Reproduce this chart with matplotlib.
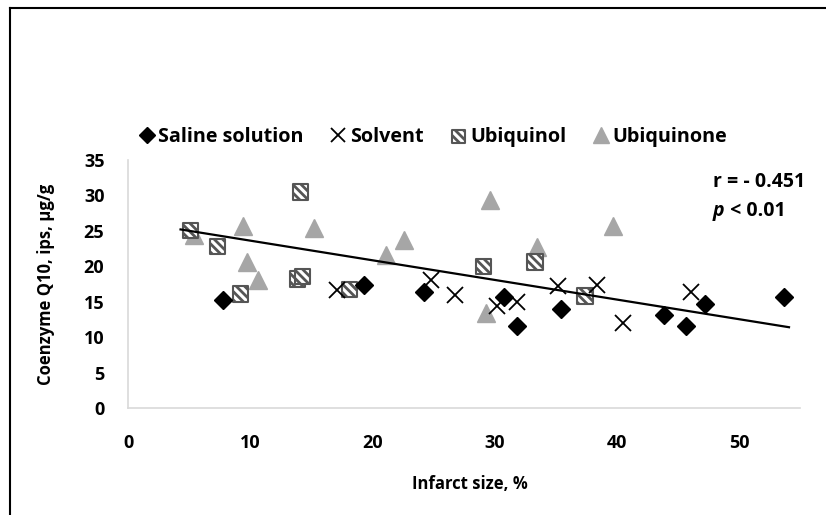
import numpy as np
import matplotlib
matplotlib.use("Agg")
import matplotlib.pyplot as plt
from matplotlib.lines import Line2D

plt.rcParams['font.family'] = ['Open Sans', 'DejaVu Sans']
plt.rcParams['font.weight'] = 'bold'
plt.rcParams['hatch.linewidth'] = 2.0

# data
saline_x = [7.8, 19.3, 24.2, 30.8, 31.8, 35.4, 43.9, 45.7, 47.2, 53.7]
saline_y = [15.2, 17.3, 16.4, 15.7, 11.6, 14.0, 13.1, 11.6, 14.7, 15.7]

solvent_x = [17.1, 24.8, 26.8, 30.2, 31.8, 35.2, 38.4, 40.5, 46.1]
solvent_y = [16.7, 18.0, 15.9, 14.4, 15.0, 17.2, 17.3, 12.0, 16.4]

ubiquinol_x = [5.1, 7.3, 9.2, 13.9, 14.3, 14.1, 18.1, 29.1, 33.3, 37.4]
ubiquinol_y = [25.0, 22.8, 16.1, 18.2, 18.6, 30.5, 16.7, 20.0, 20.6, 15.8]

ubiquinone_x = [5.4, 9.4, 15.2, 9.7, 10.6, 22.6, 21.1, 29.6, 39.7, 33.5, 29.3]
ubiquinone_y = [24.4, 25.7, 25.4, 20.6, 18.1, 23.7, 21.6, 29.4, 25.7, 22.7, 13.4]

# trend line end points as drawn in the original chart
trend_x = [4.3, 54.1]
trend_y = [25.2, 11.4]

x_ticks = [0, 10, 20, 30, 40, 50]
y_ticks = [0, 5, 10, 15, 20, 25, 30, 35]

W, H = 826, 515
fig = plt.figure(figsize=(W / 100, H / 100), dpi=100)
ax = fig.add_axes([128 / W, 1 - 408 / H, 672 / W, 248 / H])

# outer chart frame (left and top edges visible)
fig.add_artist(Line2D([10 / W, 10 / W], [0, 1 - 8 / H], color='black', lw=1.5, transform=fig.transFigure))
fig.add_artist(Line2D([10 / W, 1], [1 - 8 / H, 1 - 8 / H], color='black', lw=1.5, transform=fig.transFigure))

ax.plot(ubiquinone_x, ubiquinone_y, linestyle='none', marker='^', ms=13,
        color='#a6a6a6', mec='#a6a6a6', label='Ubiquinone', zorder=3)
ax.scatter(ubiquinol_x, ubiquinol_y, marker='s', s=11 ** 2, facecolor='white',
           edgecolor='#555555', hatch='\\\\\\\\', linewidth=1.5, label='Ubiquinol', zorder=4)
ax.plot(saline_x, saline_y, linestyle='none', marker='D', ms=9,
        color='black', label='Saline solution', zorder=5)
ax.plot(solvent_x, solvent_y, linestyle='none', marker='x', ms=11.5, mew=1.3,
        color='black', label='Solvent', zorder=5)

ax.plot(trend_x, trend_y, color='black', lw=1.6, zorder=6)

ax.set_xlim(0, 55)
ax.set_ylim(0, 35)
ax.set_xticks(x_ticks)
ax.set_yticks(y_ticks)
ax.tick_params(length=0, labelsize=13)
ax.tick_params(axis='y', pad=17)
ax.tick_params(axis='x', pad=19)
for lab in ax.get_xticklabels() + ax.get_yticklabels():
    lab.set_fontweight('bold')
for s in ['top', 'right']:
    ax.spines[s].set_visible(False)
for s in ['left', 'bottom']:
    ax.spines[s].set_color('#d9d9d9')
    ax.spines[s].set_linewidth(1.2)

ax.set_ylabel('Coenzyme Q10, ips, µg/g', fontsize=12, fontweight='bold')
ax.yaxis.set_label_coords(-0.109, 0.5)
ax.set_xlabel('Infarct size, %', fontsize=12, fontweight='bold')
ax.xaxis.set_label_coords(0.509, -0.27)

handles, labels = ax.get_legend_handles_labels()
order = [labels.index(n) for n in ['Saline solution', 'Solvent', 'Ubiquinol', 'Ubiquinone']]
fig.legend([handles[i] for i in order], [labels[i] for i in order], loc='center',
           bbox_to_anchor=(433 / W, 1 - 137 / H), ncol=4, frameon=False,
           prop={'size': 14.2, 'weight': 'bold'}, handlelength=0.8, handletextpad=0.2,
           columnspacing=1.35, markerscale=0.85)

fig.text(713 / W, 1 - 182 / H, 'r = - 0.451', fontsize=14, fontweight='bold', va='center')
ptxt = fig.text(713 / W, 1 - 211 / H, 'p', fontsize=14, fontweight='bold', style='italic', va='center')
ax.annotate(' < 0.01', xy=(1, 0.5), xycoords=ptxt, fontsize=14, fontweight='bold', va='center')

fig.savefig('out.png', dpi=100)
